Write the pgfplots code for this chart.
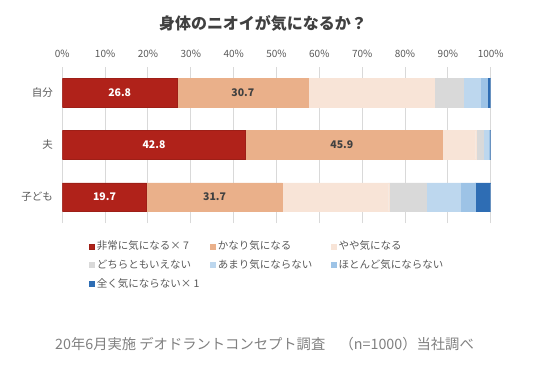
\documentclass[border=0pt]{standalone}
\usepackage{pgfplots}
\pgfplotsset{compat=1.18}
\usepackage{fontspec}
\setmainfont{Noto Sans CJK JP}
\definecolor{c1}{HTML}{B0221A}
\definecolor{c2}{HTML}{EAB08A}
\definecolor{c3}{HTML}{F8E4D7}
\definecolor{c4}{HTML}{D9D9D9}
\definecolor{c5}{HTML}{BDD7EE}
\definecolor{c6}{HTML}{9DC3E6}
\definecolor{c7}{HTML}{2E6DB4}
\definecolor{txt}{HTML}{595959}
\tikzset{vl/.style={font=\fontsize{10.5}{12}\selectfont\bfseries}}
\newcommand{\lt}[1]{\makebox[111pt][l]{#1}}
\begin{document}
\begin{tikzpicture}
\useasboundingbox (0,0) rectangle (550pt,368pt);
\begin{axis}[
  at={(62.3pt,145pt)}, anchor=south west,
  scale only axis, width=428.4pt, height=156.3pt,
  xbar stacked, bar width=28.4pt,
  xmin=0, xmax=100, ymin=-0.5, ymax=2.5,
  xtick={0,10,...,100},
  xticklabel pos=top,
  xticklabel={\pgfmathprintnumber{\tick}\%},
  /pgf/number format/assume math mode=true,
  xticklabel style={font=\fontsize{10}{12}\selectfont, text=txt, yshift=6pt},
  ytick={0,1,2},
  yticklabels={子ども,夫,自分},
  yticklabel style={font=\fontsize{10.5}{12}\selectfont, text=txt, xshift=-6pt},
  axis line style={draw=none},
  major tick style={draw=none},
  xmajorgrids, grid style={draw=c4, line width=1pt},
  legend columns=3,
  legend cell align=left,
  legend style={at={(0.0623,-0.103)}, anchor=north west, draw=none, fill=none,
    inner sep=0pt, outer sep=0pt, row sep=4.5pt,
    font=\fontsize{10.5}{12}\selectfont, text=txt,
    nodes={inner xsep=2pt}},
  legend image code/.code={\fill[#1] (0pt,-2.5pt) rectangle (5.5pt,2.5pt);},
]
\addplot[fill=c1, draw=c1!90!black] coordinates {(26.8,2) (42.8,1) (19.7,0)};
\addplot[fill=c2, draw=c2] coordinates {(30.7,2) (45.9,1) (31.7,0)};
\addplot[fill=c3, draw=c3] coordinates {(29.4,2) (7.8,1) (24.8,0)};
\addplot[fill=c4, draw=c4] coordinates {(6.6,2) (1.7,1) (8.8,0)};
\addplot[fill=c5, draw=c5] coordinates {(4.1,2) (1.2,1) (7.9,0)};
\addplot[fill=c6, draw=c6] coordinates {(1.5,2) (0.2,1) (3.4,0)};
\addplot[fill=c7, draw=c7] coordinates {(0.9,2) (0.4,1) (3.7,0)};
\legend{\lt{非常に気になる× 7}, \lt{かなり気になる}, \lt{やや気になる}, \lt{どちらともいえない}, \lt{あまり気にならない}, \lt{ほとんど気にならない}, \lt{全く気にならない× 1}}
\coordinate (a1) at (axis cs:13.4,2);
\coordinate (a2) at (axis cs:42.15,2);
\coordinate (b1) at (axis cs:21.4,1);
\coordinate (b2) at (axis cs:65.25,1);
\coordinate (d1) at (axis cs:9.85,0);
\coordinate (d2) at (axis cs:35.55,0);
\end{axis}
\node[vl, text=white] at (a1) {26.8};
\node[vl, text=black!75] at (a2) {30.7};
\node[vl, text=white] at (b1) {42.8};
\node[vl, text=black!75] at (b2) {45.9};
\node[vl, text=white] at (d1) {19.7};
\node[vl, text=black!75] at (d2) {31.7};
\node[font=\fontsize{16}{19}\selectfont\bfseries, text=black!75] at (263pt,344.7pt) {身体のニオイが気になるか？};
\node[anchor=west, inner sep=0pt, font=\fontsize{14.3}{17}\selectfont, text=black!50] at (55pt,24pt) {20年6月実施 デオドラントコンセプト調査　（n=1000）当社調べ};
\end{tikzpicture}
\end{document}
